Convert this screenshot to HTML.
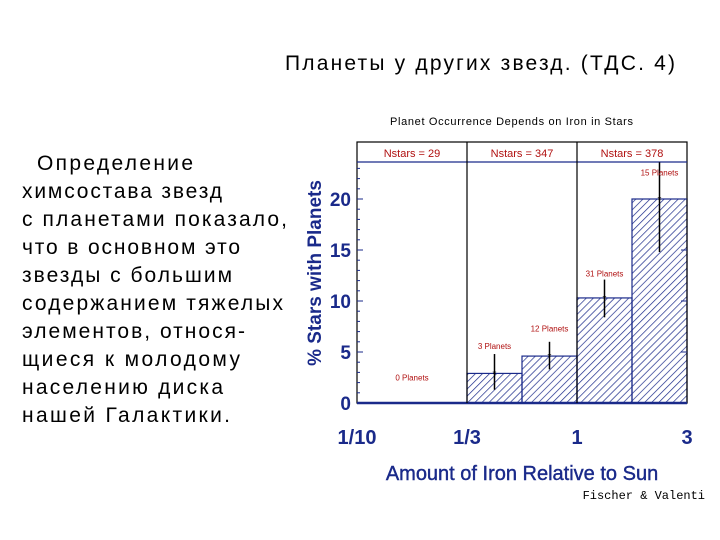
<!DOCTYPE html>
<html><head><meta charset="utf-8"><style>
body{margin:0;background:#fff;}
svg{display:block;}
</style></head><body>
<svg width="720" height="540" xmlns="http://www.w3.org/2000/svg">
<defs>
<pattern id="hatch" width="5" height="5" patternUnits="userSpaceOnUse" patternTransform="rotate(45)">
<line x1="0" y1="0" x2="0" y2="5" stroke="#1a2a8a" stroke-width="1.4"/>
</pattern>
</defs>
<text x="285" y="70" textLength="390" lengthAdjust="spacing" font-family="Liberation Sans, sans-serif" font-size="21" fill="#000">Планеты у других звезд. (ТДС. 4)</text>
<g font-family="Liberation Sans, sans-serif" font-size="21" fill="#000" lengthAdjust="spacing">
<text x="37" y="170" textLength="156">Определение</text>
<text x="22" y="198" textLength="200">химсостава звезд</text>
<text x="22" y="226" textLength="265">с планетами показало,</text>
<text x="22" y="254" textLength="218">что в основном это</text>
<text x="22" y="282" textLength="210">звезды с большим</text>
<text x="22" y="310" textLength="261">содержанием тяжелых</text>
<text x="22" y="338" textLength="223">элементов, относя-</text>
<text x="22" y="366" textLength="218">щиеся к молодому</text>
<text x="22" y="394" textLength="201">населению диска</text>
<text x="22" y="422" textLength="208">нашей Галактики.</text>
</g>
<text x="390" y="125" textLength="243" lengthAdjust="spacing" font-family="Liberation Sans, sans-serif" font-size="11" fill="#000">Planet Occurrence Depends on Iron in Stars</text>
<g id="chart"></g>
<text transform="translate(321,273) rotate(-90)" text-anchor="middle" font-family="Liberation Sans, sans-serif" font-size="19" font-weight="bold" fill="#1a2a8a">% Stars with Planets</text>
<text x="522" y="480" text-anchor="middle" font-family="Liberation Sans, sans-serif" font-size="20" fill="#1a2a8a" stroke="#1a2a8a" stroke-width="0.4">Amount of Iron Relative to Sun</text>
<text x="705" y="499" text-anchor="end" font-family="Liberation Mono, monospace" font-size="12" fill="#000">Fischer &amp; Valenti</text>
<script>
const binEdges = [0, 1, 1.5, 2, 2.5, 3];
const values = [0, 2.9, 4.6, 10.3, 20];
const errLow = [0, 1.3, 3.3, 8.4, 14.8];
const errHigh = [0, 4.8, 6.0, 12.1, 23.6];
const planetLabels = ["0 Planets", "3 Planets", "12 Planets", "31 Planets", "15 Planets"];
const labelYVals = [2.2, 5.3, 7.0, 12.4, 22.3];
const nstarsLabels = ["Nstars = 29", "Nstars = 347", "Nstars = 378"];
const yTicks = [0, 5, 10, 15, 20];
const xTickLabels = ["1/10", "1/3", "1", "3"];
const xTickVals = [0, 1, 2, 3];

const NS = "http://www.w3.org/2000/svg";
const L = 357, R = 687, T = 142, HB = 162, B = 403;
const xs = v => L + (R - L) * v / 3;
const ys = v => B - v * 10.2;
const g = document.getElementById('chart');
function mk(tag, attrs, parent) {
  const e = document.createElementNS(NS, tag);
  for (const k in attrs) e.setAttribute(k, attrs[k]);
  (parent || g).appendChild(e);
  return e;
}
for (let i = 0; i < values.length; i++) {
  if (values[i] <= 0) continue;
  const x0 = xs(binEdges[i]), x1 = xs(binEdges[i + 1]), y = ys(values[i]);
  const r = mk('rect', {x: x0, y: y, width: x1 - x0, height: B - y, fill: 'url(#hatch)', stroke: '#1a2a8a', 'stroke-width': 1.2});
  
  
}
const fr = mk('rect', {x: L, y: T, width: R - L, height: B - T, fill: 'none', stroke: '#000', 'stroke-width': 1.2});


mk('line', {x1: L, x2: R, y1: HB, y2: HB, stroke: '#1a2a8a', 'stroke-width': 1.2});
mk('line', {x1: L, x2: R, y1: B, y2: B, stroke: '#1a2a8a', 'stroke-width': 2.5});
for (let k = 1; k <= 2; k++) {
  const d = mk('line', {x1: xs(k), x2: xs(k), y1: T, y2: B, stroke: '#000', 'stroke-width': 1.2});
  
  
}
for (let k = 0; k < nstarsLabels.length; k++) {
  const t = mk('text', {x: (xs(k) + xs(k + 1)) / 2, y: 157, 'text-anchor': 'middle', 'font-family': 'Liberation Sans, sans-serif', 'font-size': 11, fill: '#b01010'});
  t.textContent = nstarsLabels[k];
  
  
}
for (const v of yTicks) {
  mk('line', {x1: L, x2: L + 6, y1: ys(v), y2: ys(v), stroke: '#1a2a8a', 'stroke-width': 1});
  mk('line', {x1: R - 6, x2: R, y1: ys(v), y2: ys(v), stroke: '#1a2a8a', 'stroke-width': 1});
  const t = mk('text', {x: 351, y: ys(v) + 7, 'text-anchor': 'end', 'font-family': 'Liberation Sans, sans-serif', 'font-size': 19, 'font-weight': 'bold', fill: '#1a2a8a'});
  t.textContent = v;
  
  
}
for (let v = 1; v < 24; v++) {
  if (v % 5 === 0) continue;
  mk('line', {x1: L, x2: L + 3, y1: ys(v), y2: ys(v), stroke: '#1a2a8a', 'stroke-width': 1});
}
for (let k = 0; k < xTickLabels.length; k++) {
  const t = mk('text', {x: xs(xTickVals[k]), y: 444, 'text-anchor': 'middle', 'font-family': 'Liberation Sans, sans-serif', 'font-size': 20, 'font-weight': 'bold', fill: '#1a2a8a'});
  t.textContent = xTickLabels[k];
  
  
}
for (let i = 0; i < values.length; i++) {
  const cx = (xs(binEdges[i]) + xs(binEdges[i + 1])) / 2;
  if (values[i] > 0) {
    const e = mk('line', {x1: cx, x2: cx, y1: ys(errHigh[i]), y2: ys(errLow[i]), stroke: '#000', 'stroke-width': 1.5});
    
    
    const s = mk('text', {x: cx, y: ys(values[i]) + 4, 'text-anchor': 'middle', 'font-family': 'Liberation Sans, sans-serif', 'font-size': 10, fill: '#000'});
    s.textContent = '*';
  }
  const t = mk('text', {x: cx, y: ys(labelYVals[i]), 'text-anchor': 'middle', 'font-family': 'Liberation Sans, sans-serif', 'font-size': 8, fill: '#b01010'});
  t.textContent = planetLabels[i];
  
  
}
</script>
</svg>
</body></html>
